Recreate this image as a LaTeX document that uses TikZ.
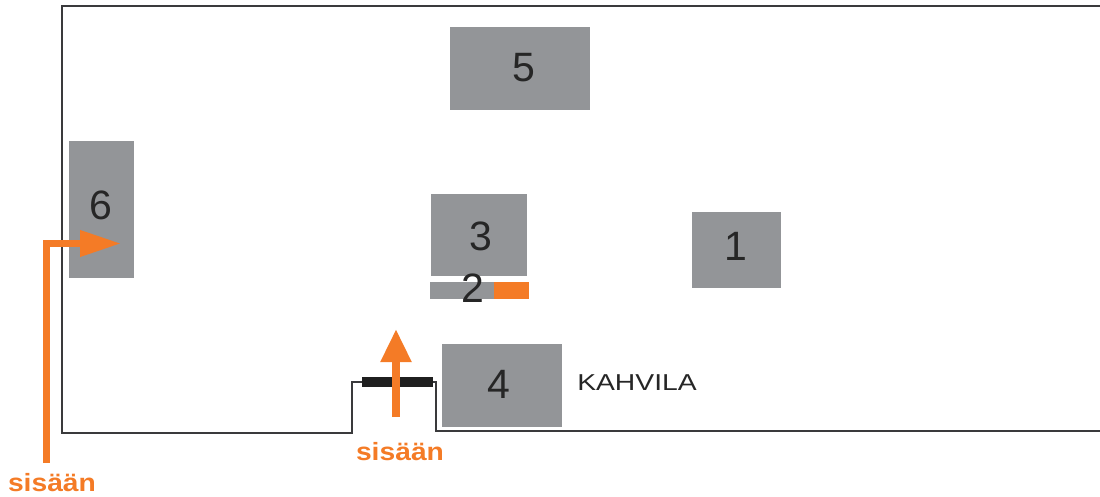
\documentclass[tikz,border=0pt]{standalone}
\usepackage{fontspec}
\setmainfont{Liberation Sans}
\usetikzlibrary{arrows.meta}
\definecolor{gb}{HTML}{939598}
\definecolor{og}{HTML}{F47B26}
\definecolor{ln}{HTML}{3A3A3C}
\tikzset{
  block/.style={fill=gb,draw=none,inner sep=0pt,anchor=north west},
  num/.style={font=\fontsize{41}{41}\selectfont,text=black!85,inner sep=0pt},
  wall/.style={draw=ln,line width=1.4pt,line join=miter},
  orangearrow/.style={draw=og,line width=7pt},
  sis/.style={font=\bfseries\fontsize{25}{25}\selectfont,text=og,inner sep=0pt,xscale=1.13}
}
\begin{document}
\begin{tikzpicture}[x=1pt,y=1pt]
\useasboundingbox (0,0) rectangle (1100,-497);
\coordinate (w1) at (1100,-6);
\coordinate (w2) at (62,-6);
\coordinate (w3) at (62,-433);
\coordinate (w4) at (352,-433);
\coordinate (w5) at (352,-382);
\coordinate (w6) at (436,-382);
\coordinate (w7) at (436,-431);
\coordinate (w8) at (1100,-431);
\draw[wall] (w1) -- (w2) -- (w3) -- (w4) -- (w5) -- (w6) -- (w7) -- (w8);
\node[block,minimum width=140pt,minimum height=83pt] (b5) at (450,-27) {};
\node[block,minimum width=65pt,minimum height=137pt] (b6) at (69,-141) {};
\node[block,minimum width=96pt,minimum height=82pt] (b3) at (431,-194) {};
\node[block,minimum width=89pt,minimum height=76pt] (b1) at (692,-212) {};
\node[block,minimum width=64pt,minimum height=17pt] (b2) at (430,-282) {};
\node[anchor=north west,fill=og,inner sep=0pt,minimum width=35pt,minimum height=17pt] (b2o) at (494,-282) {};
\node[block,minimum width=120pt,minimum height=83pt] (b4) at (442,-344) {};
\node[num] (n5) at (524,-68) {5};
\node[num] (n6) at (101,-205) {6};
\node[num] (n3) at (481,-236) {3};
\node[num] (n1) at (736,-246) {1};
\node[num] (n2) at (473,-288) {2};
\node[num] (n4) at (499,-384) {4};
\node[font=\fontsize{23}{23}\selectfont,text=black!85,anchor=west,inner sep=0pt,xscale=1.23] (kah) at (577,-383) {KAHVILA};
\node[fill=black!88,inner sep=0pt,minimum width=71pt,minimum height=10pt] (door) at (397.5,-382) {};
\node[sis] (s1) at (52,-483) {sisään};
\node[sis] (s2) at (400,-452) {sisään};
\coordinate (a1) at (46,-463);
\coordinate (a2) at (46,-243.5);
\coordinate (a3) at (121,-243.5);
\coordinate (a4) at (396,-417);
\coordinate (a5) at (396,-329);
\draw[orangearrow,-{Triangle[length=41pt,width=25pt]}] (a1) -- (a2) -- (a3);
\draw[orangearrow,line width=8pt,-{Triangle[length=33pt,width=29pt]}] (a4) -- (a5);
\end{tikzpicture}
\end{document}
